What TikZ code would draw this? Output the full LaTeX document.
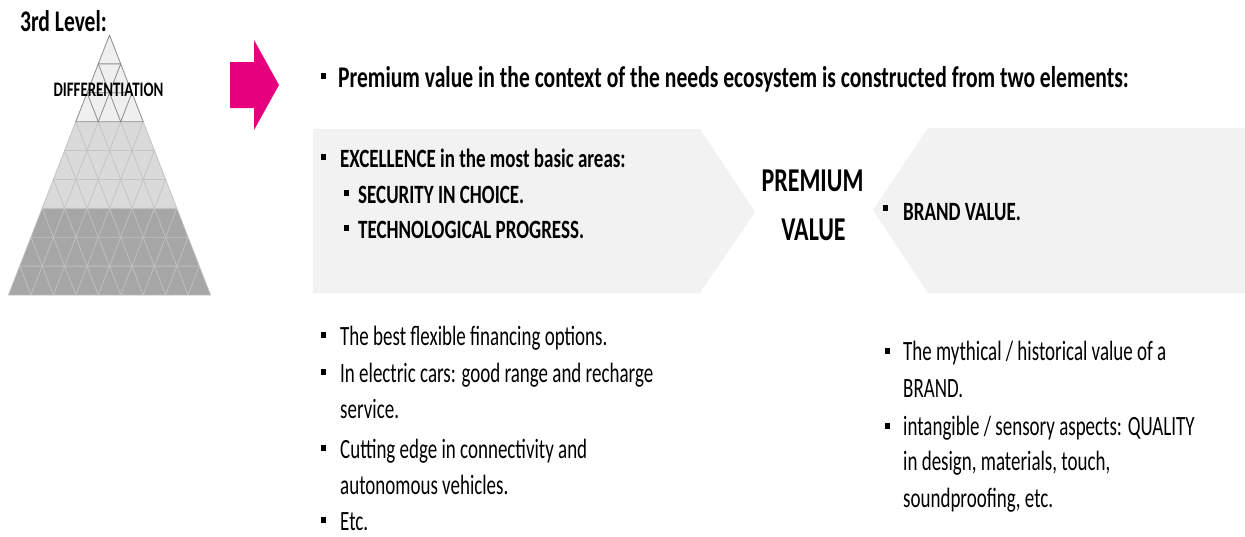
\documentclass[tikz,border=0pt]{standalone}
\usepackage{fontspec}
\setmainfont{Carlito}[FakeStretch=0.72]
\newfontfamily\bodyfont{Carlito}[FakeStretch=0.68]
\definecolor{arrowpink}{HTML}{E6007E}
\definecolor{boxgrey}{HTML}{F2F2F2}
\definecolor{pyrtop}{HTML}{EFEFEF}
\definecolor{pyrmid}{HTML}{DADADA}
\definecolor{pyrlow}{HTML}{A6A6A6}
\definecolor{linetop}{HTML}{8C8C8C}
\definecolor{linemid}{HTML}{C4C4C4}
\definecolor{linelow}{HTML}{BFBFBF}

\begin{document}
\begin{tikzpicture}[x=1pt,y=-1pt,
	txt/.style={anchor=base west, inner sep=0pt, font=\bodyfont\fontsize{27.9}{32}\selectfont},
	btxt/.style={anchor=base west, inner sep=0pt, font=\fontsize{26.4}{30}\selectfont\bfseries},
	sq/.style={fill=black, inner sep=0pt, minimum width=5pt, minimum height=6pt}]
	\useasboundingbox (0,0) rectangle (1245,536);

	\node[anchor=base west, inner sep=0pt, font=\fontsize{29.9}{34}\selectfont\bfseries] (lvl) at (20,31.7) {3rd Level:};

	\fill[pyrtop] (109.5,35) -- (75.83,121.67) -- (143.17,121.67) -- cycle;
	\fill[pyrmid] (75.83,121.67) -- (143.17,121.67) -- (176.83,208.33) -- (42.17,208.33) -- cycle;
	\fill[pyrlow] (42.17,208.33) -- (176.83,208.33) -- (210.5,295) -- (8.5,295) -- cycle;
	\foreach \r/\lc in {9/linelow,8/linelow,7/linelow,6/linemid,5/linemid,4/linemid,3/linetop,2/linetop,1/linetop}{
		\pgfmathtruncatemacro{\m}{\r-1}
		\foreach \j in {0,...,\m}{
			\draw[\lc, line width=0.8pt, line join=round] ({109.5-(\r-1)*11.222+\j*22.444},{35+(\r-1)*28.889}) -- ({109.5-\r*11.222+\j*22.444},{35+\r*28.889}) -- ({109.5-\r*11.222+(\j+1)*22.444},{35+\r*28.889}) -- cycle;
		}
	}
	\node[anchor=base, inner sep=0pt, font=\fontsize{20.6}{24}\selectfont\bfseries] (diff) at (108.5,96.7) {DIFFERENTIATION};

	\fill[arrowpink] (230,62) -- (254,62) -- (254,40) -- (279,85) -- (254,130) -- (254,108) -- (230,108) -- cycle;

	\node[sq] (bt) at (323,76) {};
	\node[anchor=base west, inner sep=0pt, font=\fontsize{30}{34}\selectfont\bfseries] (title) at (338,87) {Premium value in the context of the needs ecosystem is constructed from two elements:};

	\fill[boxgrey] (313,129) -- (700,129) -- (755,212) -- (700,293) -- (313,293) -- cycle;
	\fill[boxgrey] (928,128) -- (1245,128) -- (1245,293) -- (928,293) -- (873,210) -- cycle;

	\node[sq] (be1) at (323,157) {};
	\node[btxt] (ex1) at (340,167) {EXCELLENCE in the most basic areas:};
	\node[sq] (be2) at (346,193) {};
	\node[btxt] (ex2) at (358,203) {SECURITY IN CHOICE.};
	\node[sq] (be3) at (346,228) {};
	\node[btxt] (ex3) at (358,238) {TECHNOLOGICAL PROGRESS.};

	\node[anchor=base, inner sep=0pt, font=\fontsize{33.3}{38}\selectfont\bfseries] (pv1) at (812.5,191.7) {PREMIUM};
	\node[anchor=base, inner sep=0pt, font=\fontsize{33.3}{38}\selectfont\bfseries] (pv2) at (813.5,240) {VALUE};

	\node[sq] (bb) at (885.5,208) {};
	\node[btxt] (brand) at (903,220) {BRAND VALUE.};

	\node[sq] (bl1) at (323,335) {};
	\node[txt] (l1) at (340,345) {The best flexible financing options.};
	\node[sq] (bl2) at (323,372) {};
	\node[txt] (l2) at (340,382) {In electric cars: good range and recharge};
	\node[txt] (l3) at (340,418) {service.};
	\node[sq] (bl3) at (323,448) {};
	\node[txt] (l4) at (340,458) {Cutting edge in connectivity and};
	\node[txt] (l5) at (340,494) {autonomous vehicles.};
	\node[sq] (bl4) at (323,520) {};
	\node[txt] (l6) at (340,530) {Etc.};

	\node[sq] (br1) at (887,351) {};
	\node[txt] (r1) at (903,360) {The mythical / historical value of a};
	\node[txt] (r2) at (903,397) {BRAND.};
	\node[sq] (br2) at (887,426) {};
	\node[txt] (r3) at (903,435) {intangible / sensory aspects: QUALITY};
	\node[txt] (r4) at (903,470) {in design, materials, touch,};
	\node[txt] (r5) at (903,507) {soundproofing, etc.};
\end{tikzpicture}
\end{document}
